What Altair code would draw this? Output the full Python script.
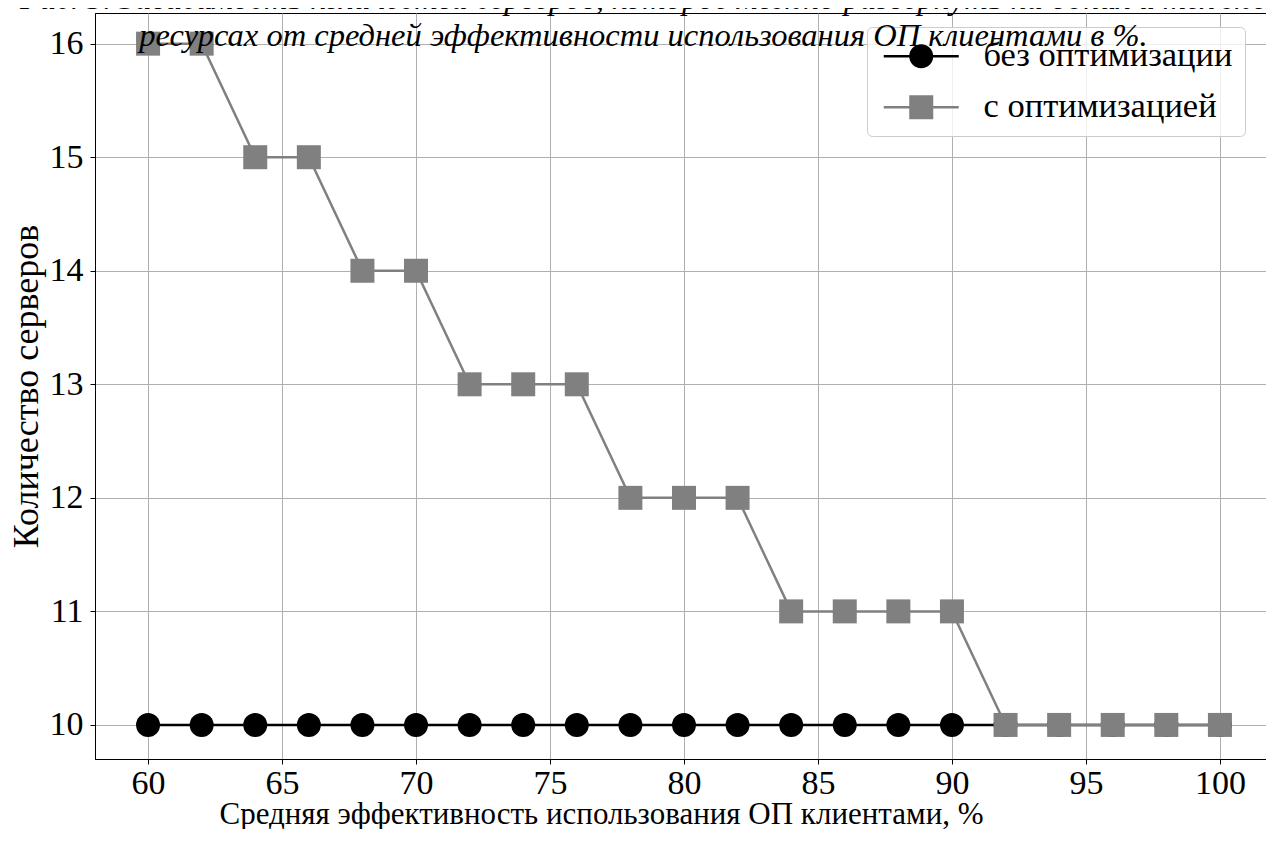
import altair as alt
import pandas as pd

# ---- data ----
x_values = [60, 62, 64, 66, 68, 70, 72, 74, 76, 78, 80, 82, 84, 86, 88, 90, 92, 94, 96, 98, 100]
without_opt = [10, 10, 10, 10, 10, 10, 10, 10, 10, 10, 10, 10, 10, 10, 10, 10, 10, 10, 10, 10, 10]
with_opt = [16, 16, 15, 15, 14, 14, 13, 13, 13, 12, 12, 12, 11, 11, 11, 11, 10, 10, 10, 10, 10]
series_names = ["без оптимизации", "с оптимизацией"]
series_colors = ["#000000", "#808080"]
x_ticks = [60, 65, 70, 75, 80, 85, 90, 95, 100]
y_ticks = [10, 11, 12, 13, 14, 15, 16]

title_lines = [
    "Рис. 3. Зависимость количества серверов, которое можно развернуть на одних и тех же",
    "ресурсах от средней эффективности использования ОП клиентами в %.",
]
x_title = "Средняя эффективность использования ОП клиентами, %"
y_title = "Количество серверов"

df = pd.DataFrame({
    "x": x_values + x_values,
    "y": without_opt + with_opt,
    "series": [series_names[0]] * len(x_values) + [series_names[1]] * len(x_values),
})
# legend-only table: one row per series, no position (nothing drawn, legend only)
legend_df = pd.DataFrame({"series": series_names, "x": [None, None], "y": [None, None]})

FONT = "Liberation Serif"

# legend symbols: marker with a line through it (custom paths, unit = marker radius)
circle_path = ("M-3.125,-0.1 L-0.99,-0.1 L-0.99,0.1 L-3.125,0.1 Z "
               "M0.99,-0.1 L3.125,-0.1 L3.125,0.1 L0.99,0.1 Z "
               "M-1,0 A1,1 0 1,1 1,0 A1,1 0 1,1 -1,0 Z")
square_path = ("M-3.125,-0.1 L-1,-0.1 L-1,0.1 L-3.125,0.1 Z "
               "M1,-0.1 L3.125,-0.1 L3.125,0.1 L1,0.1 Z "
               "M-1,-1 L1,-1 L1,1 L-1,1 Z")

xenc = alt.X(
    "x:Q",
    scale=alt.Scale(domain=[58.02, 101.72], nice=False, zero=False),
    axis=alt.Axis(values=x_ticks, title=x_title, format="d", labelFlush=False,
                  labelPadding=2,
                  titleX=506, titleY=64, titleAlign="center", titleBaseline="alphabetic",
                  titleFontSize=31),
)
yenc = alt.Y(
    "y:Q",
    scale=alt.Scale(domain=[9.7, 16.27], nice=False, zero=False),
    axis=alt.Axis(values=y_ticks, title=y_title, format="d", labelFlush=False,
                  labelPadding=7,
                  titleX=-58, titleY=373, titleAngle=270, titleAlign="center",
                  titleBaseline="alphabetic", titleFontSize=36),
)

layers = []
for name, color, shape in [(series_names[0], series_colors[0], "circle"),
                           (series_names[1], series_colors[1], "square")]:
    base = alt.Chart(df).transform_filter(alt.datum.series == name)
    layers.append(base.mark_line(color=color, strokeWidth=2.5).encode(x=xenc, y=yenc))
    layers.append(base.mark_point(shape=shape, filled=True, color=color, opacity=1,
                                  size=576).encode(x=xenc, y=yenc))

legend_params = dict(
    title=None,
    orient="none",
    legendX=772,
    legendY=14,
    labelFont=FONT,
    labelFontSize=34.5,
    labelColor="black",
    labelLimit=0,
    labelOffset=45,
    symbolOffset=25,
    symbolSize=576,
    symbolStrokeWidth=0,
    symbolOpacity=1,
    rowPadding=16,
    padding=12,
    strokeColor="#cccccc",
    fillColor="rgba(255,255,255,0.8)",
    cornerRadius=5,
)

legend_layer = alt.Chart(legend_df).mark_point(filled=True, opacity=1, size=576).encode(
    x=xenc,
    y=yenc,
    color=alt.Color("series:N", scale=alt.Scale(domain=series_names, range=series_colors),
                    legend=alt.Legend(**legend_params)),
    shape=alt.Shape("series:N", scale=alt.Scale(domain=series_names, range=[circle_path, square_path]),
                    legend=alt.Legend(**legend_params)),
)

chart = alt.layer(*layers, legend_layer).properties(
    width=1171,
    height=746,
    autosize=alt.AutoSizeParams(type="none"),
    padding={"left": 87, "top": 5, "right": 0, "bottom": 70},
    title=alt.TitleParams(
        text=title_lines,
        font=FONT,
        fontSize=32.5,
        fontStyle="italic",
        fontWeight="normal",
        color="black",
        anchor="middle",
        lineHeight=37,
        dx=-37,
        dy=43,
    ),
).configure_view(
    stroke="black", strokeWidth=1
).configure_axis(
    labelFont=FONT,
    labelFontSize=34,
    labelColor="black",
    titleFont=FONT,
    titleFontWeight="normal",
    titleColor="black",
    tickColor="black",
    tickSize=5,
    domainColor="black",
    domainWidth=1,
    gridColor="#b0b0b0",
    gridWidth=1,
    grid=True,
)

chart.save("out.html", embed_options={"renderer": "svg", "actions": False})
